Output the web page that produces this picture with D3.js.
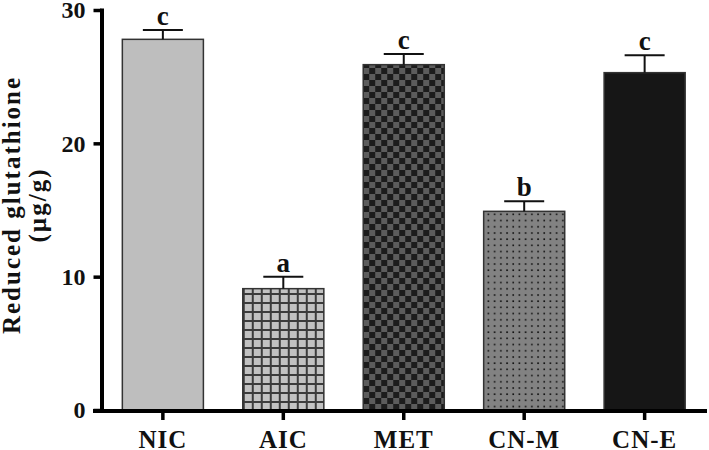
<!DOCTYPE html>
<html><head><meta charset="utf-8">
<script src="https://cdn.jsdelivr.net/npm/d3@7"></script>
<style>html,body{margin:0;padding:0;background:#fff;}</style>
</head><body>
<svg id="c" width="709" height="450"></svg>
<script>
const categories = ["NIC", "AIC", "MET", "CN-M", "CN-E"];
const values = [27.8, 9.1, 25.9, 14.9, 25.3];
const errors = [0.7, 0.9, 0.8, 0.75, 1.3];
const letters = ["c", "a", "c", "b", "c"];
const yTicks = [0, 10, 20, 30];
const yTitle = ["Reduced glutathione", "(µg/g)"];

const svg = d3.select("#c");
const FONT = "'Liberation Serif','Times New Roman',serif";

const x = d3.scaleBand().domain(categories).range([101.5, 706]).paddingInner(0.327).paddingOuter(0.173);
const y = d3.scaleLinear().domain([0, 30]).range([410, 10]);

const defs = svg.append("defs");
function pat(id, xo, yo, w, h) {
  return defs.append("pattern").attr("id", id).attr("patternUnits", "userSpaceOnUse")
    .attr("x", xo).attr("y", yo).attr("width", w).attr("height", h);
}
// AIC grid
const pg = pat("grid", x("AIC"), y(0), 9, 9);
pg.append("rect").attr("width", 9).attr("height", 9).attr("fill", "#3c3c3c");
pg.append("rect").attr("x", 2).attr("y", 2).attr("width", 7).attr("height", 7).attr("fill", "#c2c2c2");
// MET checker
const pc = pat("check", x("MET"), y(0), 12, 12);
pc.append("rect").attr("width", 12).attr("height", 12).attr("fill", "#1c1c1c");
pc.append("rect").attr("x", 6).attr("width", 6).attr("height", 6).attr("fill", "#5c5c5c");
pc.append("rect").attr("y", 6).attr("width", 6).attr("height", 6).attr("fill", "#5c5c5c");
// CN-M dots
const pd = pat("dots", x("CN-M") + 2, y(0), 6.2, 6.2);
pd.append("rect").attr("width", 6.2).attr("height", 6.2).attr("fill", "#828282");
pd.append("rect").attr("x", 2).attr("y", 2).attr("width", 1.6).attr("height", 1.6).attr("fill", "#111");

const fills = {"NIC": "#bebebe", "AIC": "url(#grid)", "MET": "url(#check)", "CN-M": "url(#dots)", "CN-E": "#161616"};

const data = categories.map((c, i) => ({c, v: values[i], e: errors[i], l: letters[i]}));

// bars
svg.append("g").selectAll("rect").data(data).join("rect")
  .attr("x", d => x(d.c)).attr("y", d => y(d.v))
  .attr("width", x.bandwidth()).attr("height", d => y(0) - y(d.v))
  .attr("fill", d => fills[d.c]).attr("stroke", "#333").attr("stroke-width", 1.5);

// error bars
const eb = svg.append("g").attr("stroke", "#111").attr("stroke-width", 2);
eb.selectAll("line.v").data(data).join("line").attr("class", "v")
  .attr("x1", d => x(d.c) + x.bandwidth() / 2).attr("x2", d => x(d.c) + x.bandwidth() / 2)
  .attr("y1", d => y(d.v)).attr("y2", d => y(d.v + d.e));
eb.selectAll("line.h").data(data).join("line").attr("class", "h")
  .attr("x1", d => x(d.c) + x.bandwidth() / 2 - 20).attr("x2", d => x(d.c) + x.bandwidth() / 2 + 20)
  .attr("y1", d => y(d.v + d.e)).attr("y2", d => y(d.v + d.e));

// letters
svg.append("g").selectAll("text").data(data).join("text")
  .attr("x", d => x(d.c) + x.bandwidth() / 2).attr("y", d => y(d.v + d.e) - 5)
  .attr("text-anchor", "middle").attr("font-family", FONT).attr("font-weight", "bold")
  .attr("font-size", 27).attr("fill", "#111").text(d => d.l);

// y axis
const ya = svg.append("g").attr("transform", "translate(101.5,0)")
  .call(d3.axisLeft(y).tickValues(yTicks).tickSize(8).tickSizeOuter(0).tickPadding(8));
ya.select(".domain").attr("stroke", "#000").attr("stroke-width", 4).attr("stroke-linecap", "square");
ya.selectAll(".tick line").attr("stroke", "#000").attr("stroke-width", 3.5);
ya.selectAll(".tick text").attr("font-family", FONT).attr("font-weight", "bold")
  .attr("font-size", 24).attr("fill", "#111");

// x axis
const xa = svg.append("g").attr("transform", "translate(0,411)")
  .call(d3.axisBottom(x).tickSize(9).tickSizeOuter(0).tickPadding(10));
xa.select(".domain").remove();
xa.selectAll(".tick line").attr("stroke", "#000").attr("stroke-width", 3.5);
xa.selectAll(".tick text").attr("font-family", FONT).attr("font-weight", "bold")
  .attr("font-size", 25).attr("letter-spacing", 1).attr("fill", "#111");
svg.append("line").attr("x1", 93).attr("x2", 707).attr("y1", 411).attr("y2", 411)
  .attr("stroke", "#000").attr("stroke-width", 4);

// y title
const yt = svg.append("g").attr("transform", "translate(0,205) rotate(-90)");
yt.selectAll("text").data(yTitle).join("text")
  .attr("x", 0).attr("y", (d, i) => 20 + i * 26)
  .attr("text-anchor", "middle").attr("font-family", FONT).attr("font-weight", "bold")
  .attr("font-size", 25).attr("letter-spacing", 2).attr("fill", "#111").text(d => d);
</script>
</body></html>
